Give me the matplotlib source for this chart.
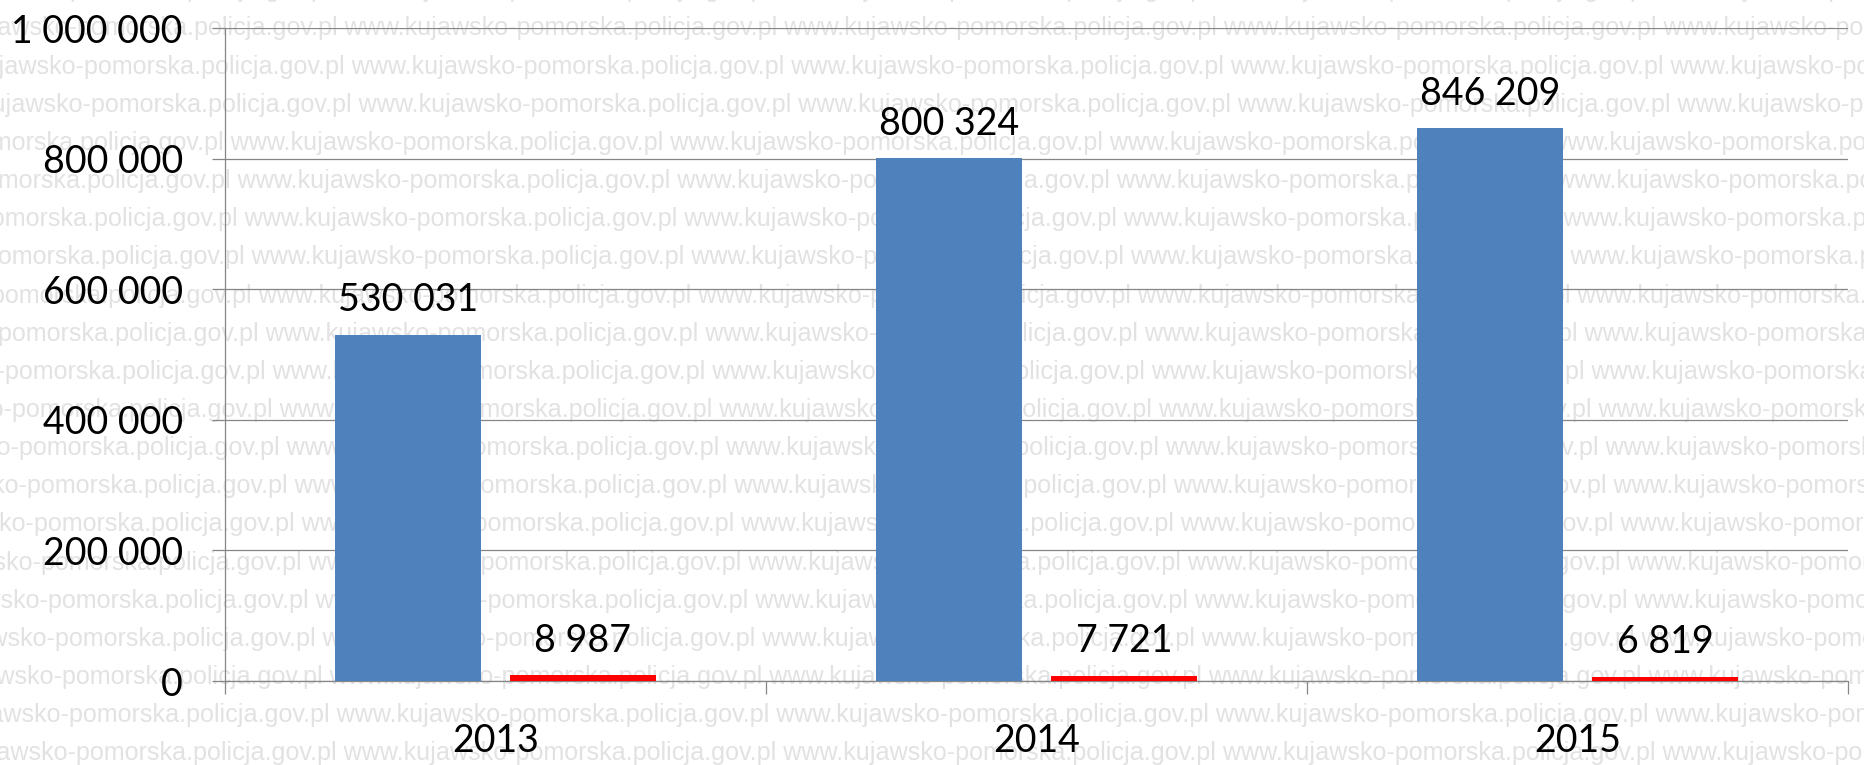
# wykres: 2013-2015, dwie serie słupków z watermarkiem w tle

import numpy as np
import matplotlib.pyplot as plt
from matplotlib.ticker import FuncFormatter

# --- dane ---
years = ["2013", "2014", "2015"]
blue_vals = [530031, 800324, 846209]
red_vals = [8987, 7721, 6819]
y_ticks = [0, 200000, 400000, 600000, 800000, 1000000]


def fmt(v, pos=None):
    return f"{int(v):,}".replace(",", " ")


W, H = 1865, 765
fig = plt.figure(figsize=(W / 100, H / 100), dpi=100)
renderer = fig.canvas.get_renderer()

# --- watermark w tle ---
wm = "www.kujawsko-pomorska.policja.gov.pl "
period = 437
fs = 17.85
# dopasowanie rozmiaru czcionki do okresu powtórzeń
t1 = fig.text(0, 0, wm * 2, fontsize=fs, family="Liberation Sans")
t2 = fig.text(0, 0, wm * 3, fontsize=fs, family="Liberation Sans")
p = t2.get_window_extent(renderer).width - t1.get_window_extent(renderer).width
t1.remove()
t2.remove()
fs = fs * period / p

for i in range(0, 21):
    y = 35.5 + 38.15 * (i - 1)
    x0 = 228 + 7.06 * (i - 4) + (135 if i <= 3 else 0)
    x = x0 - period * np.ceil(x0 / period)
    fig.text(x / W, 1 - y / H, wm * 7, ha="left", va="baseline",
             fontsize=fs, family="Liberation Sans", color="#e2e2e2",
             zorder=-1)

# --- wykres ---
ax = fig.add_axes([225 / W, (H - 681) / H, (1848 - 225) / W, (681 - 28) / H])
ax.patch.set_alpha(0)

x = np.arange(len(years))
bw = 0.27
off = 0.1617
b1 = ax.bar(x - off, blue_vals, bw, color="#4F81BD", zorder=3)
b2 = ax.bar(x + off, red_vals, bw, color="#FF0000", zorder=3)

for bars, vals in ((b1, blue_vals), (b2, red_vals)):
    for r, v in zip(bars, vals):
        ax.annotate(fmt(v), (r.get_x() + r.get_width() / 2, v),
                    xytext=(0, 17), textcoords="offset points",
                    ha="center", va="baseline", fontsize=27, family="Lato")

ax.set_xlim(-0.5, len(years) - 0.5)
ax.set_ylim(0, 1000000)
ax.set_yticks(y_ticks)
ax.yaxis.set_major_formatter(FuncFormatter(fmt))
ax.set_xticks(np.arange(len(years) + 1) - 0.5)
ax.set_xticklabels([])
ax.set_xticks(x, minor=True)
ax.set_xticklabels(years, minor=True)

gc = "#868686"
ax.yaxis.grid(True, color=gc, lw=0.9)
ax.set_axisbelow(True)
for s in ("top", "right"):
    ax.spines[s].set_visible(False)
for s in ("left", "bottom"):
    ax.spines[s].set_color(gc)
    ax.spines[s].set_linewidth(0.9)

ax.tick_params(axis="y", direction="out", length=9.4, width=0.9, color=gc,
               pad=21, labelsize=27)
ax.tick_params(axis="x", which="major", direction="out", length=9.4,
               width=0.9, color=gc)
ax.tick_params(axis="x", which="minor", length=0, pad=30, labelsize=27)
for lab in ax.get_yticklabels() + ax.get_xticklabels(minor=True):
    lab.set_family("Lato")

fig.savefig("out.png", dpi=100)
